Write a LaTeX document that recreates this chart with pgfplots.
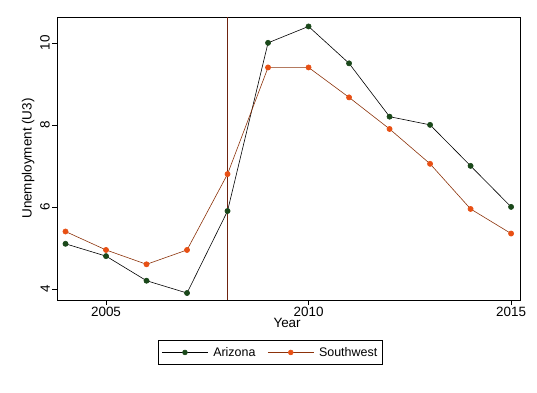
\documentclass[border=0pt]{standalone}
\usepackage{pgfplots}
\pgfplotsset{compat=1.18}
\usepackage{fontspec}
\setmainfont{Liberation Sans}
\definecolor{azmark}{RGB}{26,72,26}
\definecolor{swmark}{RGB}{232,80,20}
\definecolor{swline}{RGB}{140,50,10}
\definecolor{vline}{RGB}{110,35,15}
\begin{document}
\begin{tikzpicture}
\begin{axis}[
  scale only axis,
  width=463bp, height=283bp,
  xmin=2003.79, xmax=2015.22,
  ymin=3.73, ymax=10.63,
  axis line style={black, line width=0.8pt},
  xtick={2005,2010,2015},
  ytick={4,6,8,10},
  xticklabel style={/pgf/number format/1000 sep={}},
  /pgf/number format/assume math mode=true,
  tick align=outside,
  tick pos=left,
  major tick length=5bp,
  tick style={black, line width=0.6pt},
  ticklabel style={font=\fontsize{13.5}{15}\selectfont},
  yticklabel style={rotate=90, anchor=south, inner sep=2bp},
  xticklabel style={inner sep=2bp},
  xlabel={Year},
  ylabel={Unemployment (U3)},
  label style={font=\fontsize{13.5}{15}\selectfont},
  xlabel style={at={(0.497,0)}, anchor=north, yshift=-17bp, inner sep=1bp},
  ylabel style={at={(0,0.5)}, yshift=19bp},
  legend style={at={(0.461,-0.141)}, anchor=north, legend columns=2,
    font=\fontsize{12.5}{14}\selectfont, draw=black, line width=0.6pt,
    /tikz/every odd column/.append style={column sep=3bp},
    /tikz/every even column/.append style={column sep=10bp},
    inner ysep=5bp, inner xsep=3bp},
  legend image code/.code={
    \draw[#1, mark=none] (0bp,0bp) -- (46bp,0bp);
    \draw[#1, draw=none, mark size=2.4bp] plot coordinates {(23bp,0bp)};
  },
]
\addplot[vline, line width=0.7pt, forget plot] coordinates {(2008,3.73) (2008,10.63)};
\addplot[black, line width=0.6pt, mark=*, mark size=2.6bp, mark options={fill=azmark, draw=azmark}] coordinates {
(2004,5.1) (2005,4.8) (2006,4.2) (2007,3.9) (2008,5.9) (2009,10.0) (2010,10.4) (2011,9.5) (2012,8.2) (2013,8.0) (2014,7.0) (2015,6.0)};
\addlegendentry{Arizona}
\addplot[swline, line width=0.6pt, mark=*, mark size=2.6bp, mark options={fill=swmark, draw=swmark}] coordinates {
(2004,5.4) (2005,4.95) (2006,4.6) (2007,4.95) (2008,6.8) (2009,9.4) (2010,9.4) (2011,8.67) (2012,7.9) (2013,7.05) (2014,5.95) (2015,5.35)};
\addlegendentry{Southwest}
\end{axis}
\path (-57bp,-93bp) rectangle (480bp,300bp);
\end{tikzpicture}
\end{document}
